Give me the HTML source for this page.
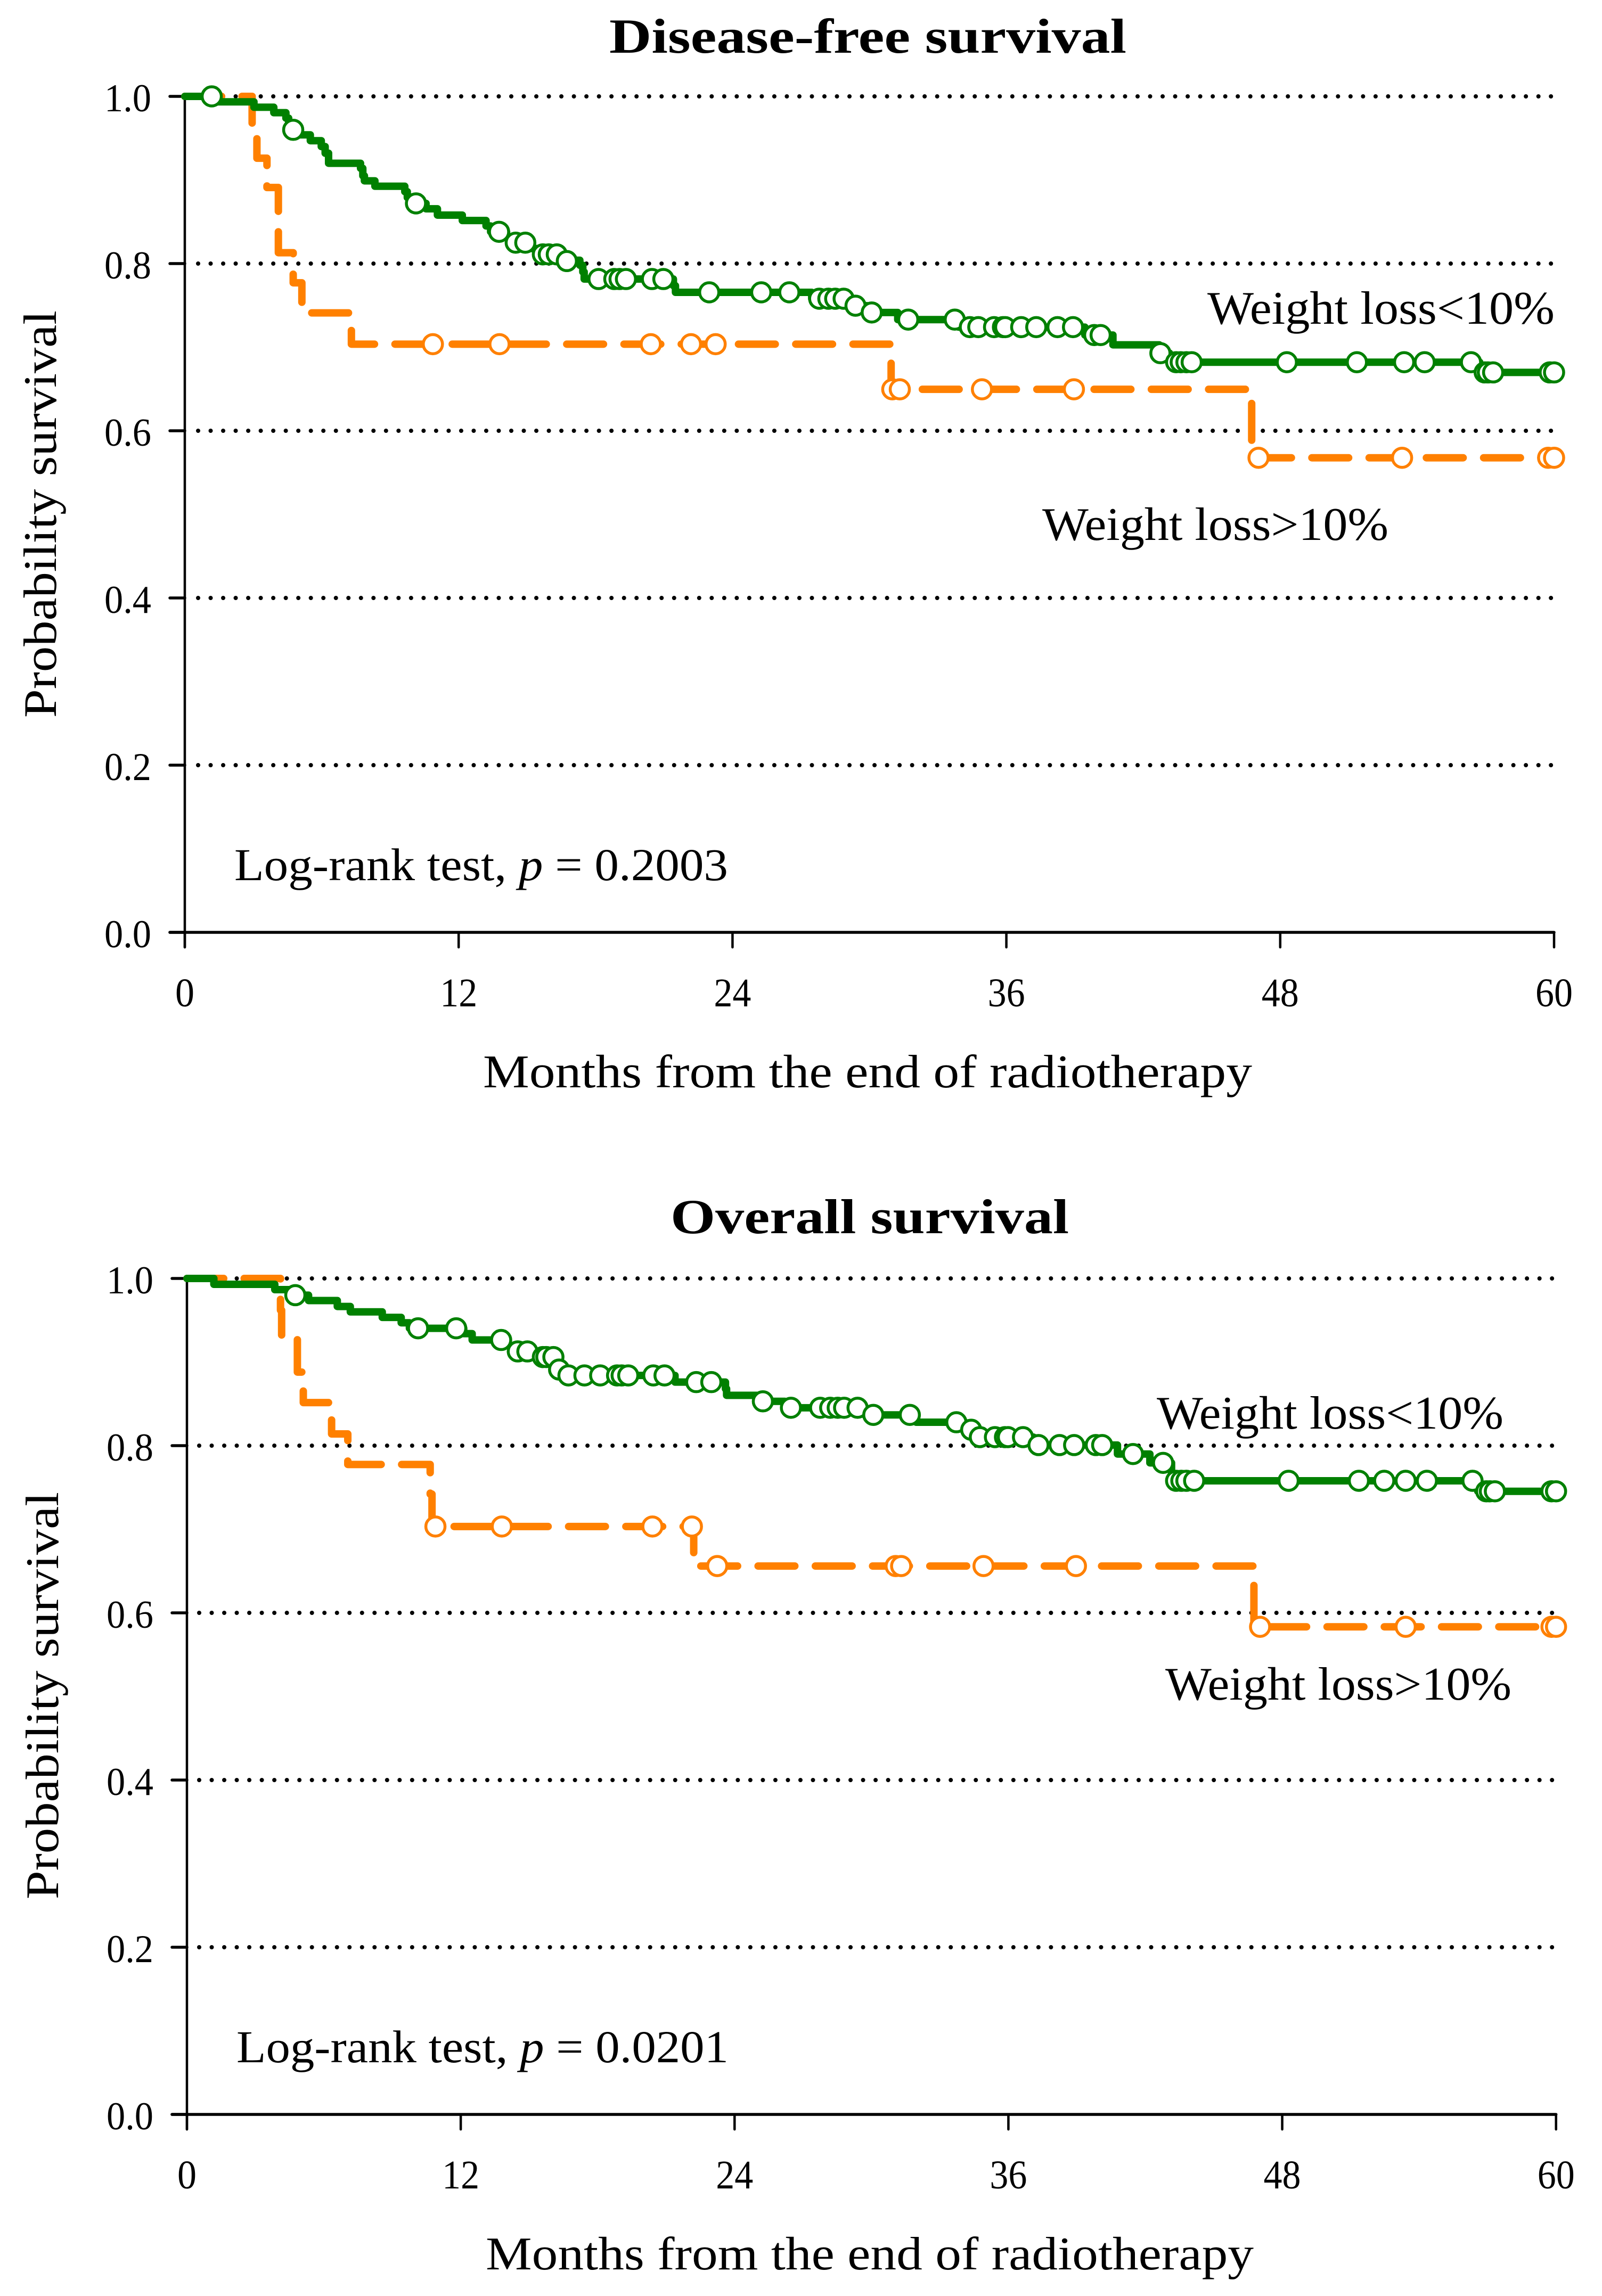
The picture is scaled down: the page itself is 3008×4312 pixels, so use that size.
<!DOCTYPE html>
<html lang="en">
<head>
<meta charset="utf-8">
<title>Disease-free and overall survival by weight loss</title>
<style>
  html, body { margin: 0; padding: 0; background: #fff; }
  svg { display: block; }
  text { font-family: "Liberation Serif", serif; fill: #000; }
</style>
</head>
<body>
<svg id="figure" xmlns="http://www.w3.org/2000/svg" width="3008" height="4312" viewBox="0 0 3008 4312">
  <rect width="3008" height="4312" fill="#fff"/>

  <g id="panel-dfs"></g>
  <text x="1144" y="99" font-size="92" font-weight="bold" textLength="971" lengthAdjust="spacingAndGlyphs">Disease-free survival</text>
  <text transform="translate(105,1348) rotate(-90)" font-size="88" textLength="765" lengthAdjust="spacingAndGlyphs">Probability survival</text>
  <text x="907" y="2042" font-size="88" textLength="1444" lengthAdjust="spacingAndGlyphs">Months from the end of radiotherapy</text>
  <text x="2267" y="608" font-size="88" textLength="652" lengthAdjust="spacingAndGlyphs">Weight loss&lt;10%</text>
  <text x="1957" y="1014" font-size="88" textLength="650" lengthAdjust="spacingAndGlyphs">Weight loss&gt;10%</text>
  <text x="440" y="1653" font-size="86" textLength="927" lengthAdjust="spacingAndGlyphs">Log-rank test, <tspan font-style="italic">p</tspan> = 0.2003</text>

  <g id="panel-os"></g>
  <text x="1259" y="2316" font-size="92" font-weight="bold" textLength="748" lengthAdjust="spacingAndGlyphs">Overall survival</text>
  <text transform="translate(109,3567) rotate(-90)" font-size="88" textLength="765" lengthAdjust="spacingAndGlyphs">Probability survival</text>
  <text x="912" y="4262" font-size="88" textLength="1442" lengthAdjust="spacingAndGlyphs">Months from the end of radiotherapy</text>
  <text x="2172" y="2683" font-size="88" textLength="651" lengthAdjust="spacingAndGlyphs">Weight loss&lt;10%</text>
  <text x="2188" y="3192" font-size="88" textLength="650" lengthAdjust="spacingAndGlyphs">Weight loss&gt;10%</text>
  <text x="444" y="3873" font-size="86" textLength="924" lengthAdjust="spacingAndGlyphs">Log-rank test, <tspan font-style="italic">p</tspan> = 0.0201</text>
</svg>

<script>
// ---- Axis ticks ----
const xTicks = [0, 12, 24, 36, 48, 60];
const yTicks = [0, 0.2, 0.4, 0.6, 0.8, 1.0];
const yTickLabels = ['0.0', '0.2', '0.4', '0.6', '0.8', '1.0'];

// ---- Disease-free survival: weight loss < 10% ----
const dfsLowMonths = [0,1.4,3.03,3.9,4.43,4.55,4.65,5.0,5.5,5.98,6.15,6.3,7.7,7.8,7.87,8.33,9.64,9.75,9.95,10.57,11.07,12.16,13.2,13.4,14.1,14.4,15.1,15.5,16.5,17.31,17.44,17.5,21.41,21.5,27.47,29.2,29.9,31.24,33.9,39.44,40.67,42.7,43.15,56.74,60];
const dfsLowSurvival = [1,.9935,.987,.9805,.974,.967,.96,.954,.947,.94,.932,.92,.914,.905,.899,.8925,.886,.879,.872,.8655,.858,.8515,.845,.838,.831,.825,.818,.811,.804,.798,.79,.7815,.7735,.7656,.758,.7496,.7415,.733,.724,.7145,.7028,.6928,.682,.6698,.6698];
const dfsLowCensorMonths = [1.18,4.75,10.13,13.77,14.5,14.92,15.69,15.95,16.3,16.74,18.13,18.82,19.05,19.33,20.47,20.97,22.98,25.26,26.49,27.8,28.2,28.5,28.87,29.39,30.1,31.7,33.74,34.4,34.77,35.46,35.85,35.95,36.65,37.31,38.24,38.92,39.85,40.13,42.75,43.44,43.64,43.89,44.12,48.29,51.36,53.43,54.33,56.36,56.96,57.1,57.33,59.81,60];
const dfsLowCensorSurvival = [1,.96,.872,.838,.825,.825,.811,.811,.811,.803,.7815,.7815,.7815,.7815,.7815,.7815,.7656,.7656,.7656,.758,.758,.758,.758,.7496,.7415,.733,.733,.724,.724,.724,.724,.724,.724,.724,.724,.724,.7145,.7145,.6928,.682,.682,.682,.682,.682,.682,.682,.682,.682,.6698,.6698,.6698,.6698,.6698];

// ---- Disease-free survival: weight loss > 10% ----
const dfsHighMonths = [0,2.95,3.16,3.6,4.1,4.75,5.13,7.3,30.95,46.75,60];
const dfsHighSurvival = [1,.957,.926,.891,.813,.777,.741,.7036,.6496,.5677,.5677];
const dfsHighCensorMonths = [10.87,13.79,20.42,22.18,23.26,31,31.33,34.93,38.96,47.05,53.34,59.74,60];
const dfsHighCensorSurvival = [.7036,.7036,.7036,.7036,.7036,.6496,.6496,.6496,.6496,.5677,.5677,.5677,.5677];

// ---- Overall survival: weight loss < 10% ----
const osLowMonths = [0,1.18,3.85,4.5,5.33,6.59,7.16,8.56,9.39,9.75,12.13,12.5,13.9,14.2,15.2,16.2,16.3,16.6,21.39,23.6,23.65,25.1,26.2,29.7,31.96,34.1,34.5,37.1,40.78,42.2,43.15,56.57,60];
const osLowSurvival = [1,.993,.9866,.98,.9736,.9665,.96,.9534,.947,.9404,.934,.9264,.9195,.9127,.906,.899,.891,.884,.876,.868,.8602,.853,.8453,.8368,.828,.819,.8102,.8007,.79,.7794,.758,.7454,.7454];
const osLowCensorMonths = [4.75,10.13,11.8,13.77,14.5,14.92,15.6,15.75,16.06,16.31,16.72,17.42,18.11,18.85,19.05,19.34,20.44,20.93,22.32,22.98,25.24,26.47,27.75,28.19,28.52,28.8,29.39,30.08,31.68,33.72,34.37,34.75,35.41,35.85,35.98,36.64,37.32,38.24,38.88,39.83,40.11,41.46,42.78,43.35,43.58,43.8,44.14,48.28,51.36,52.47,53.41,54.34,56.34,56.94,57.1,57.32,59.8,60];
const osLowCensorSurvival = [.98,.9404,.9404,.9264,.9127,.9127,.906,.906,.906,.891,.884,.884,.884,.884,.884,.884,.884,.884,.876,.876,.853,.8453,.8453,.8453,.8453,.8453,.8453,.8368,.8368,.828,.819,.8102,.8102,.8102,.8102,.8102,.8007,.8007,.8007,.8007,.8007,.79,.7794,.758,.758,.758,.758,.758,.758,.758,.758,.758,.758,.7454,.7454,.7454,.7454,.7454];

// ---- Overall survival: weight loss > 10% ----
const osHighMonths = [0,4.1,4.15,4.84,5.1,6.34,7.05,10.66,10.74,22.21,46.76,60];
const osHighSurvival = [1,.962,.929,.888,.8515,.814,.7775,.742,.7033,.656,.5833,.5833];
const osHighCensorMonths = [10.89,13.8,20.4,22.13,23.24,31.06,31.3,34.91,38.96,47.03,53.41,59.8,60];
const osHighCensorSurvival = [.7033,.7033,.7033,.7033,.656,.656,.656,.656,.656,.5833,.5833,.5833,.5833];

const SVG_NS = 'http://www.w3.org/2000/svg';
const GREEN = '#008000';
const ORANGE = '#FF8000';

function make(tag, attrs, parent) {
  const el = document.createElementNS(SVG_NS, tag);
  for (const k in attrs) el.setAttribute(k, attrs[k]);
  parent.appendChild(el);
  return el;
}

function drawMarkers(g, months, survival, xScale, yScale, color) {
  months.forEach(function (m, i) {
    const c = make('circle', { cx: xScale(m), cy: yScale(survival[i]), r: 18, fill: '#fff', stroke: color, 'stroke-width': 5.5 }, g);
    
    
  });
}

function stepPath(months, survival, xScale, yScale) {
  let d = 'M' + xScale(months[0]) + ' ' + yScale(survival[0]);
  for (let i = 1; i < months.length; i++) {
    d += ' H' + xScale(months[i]) + ' V' + yScale(survival[i]);
  }
  return d;
}

function drawPanel(g, box, low, high) {
  const xScale = function (m) { return box.left + (m / 60) * (box.right - box.left); };
  const yScale = function (s) { return box.bottom - s * (box.bottom - box.top); };

  // dotted gridlines
  yTicks.forEach(function (t) {
    if (t === 0) return;
    const grid = make('line', { x1: box.dotStart, x2: box.dotEnd, y1: yScale(t), y2: yScale(t), stroke: '#000', 'stroke-width': 8, 'stroke-linecap': 'round', 'stroke-dasharray': '0 23.52' }, g);
    
    
  });

  // axes
  const yAxis = make('line', { x1: box.left, x2: box.left, y1: yScale(1), y2: box.bottom + 28, stroke: '#000', 'stroke-width': 4.5, 'stroke-linecap': 'round' }, g);
  
  
  const xAxis = make('line', { x1: box.left - 28, x2: box.right, y1: box.bottom, y2: box.bottom, stroke: '#000', 'stroke-width': 5.5, 'stroke-linecap': 'round' }, g);
  
  

  // y ticks and labels
  yTicks.forEach(function (t, i) {
    const tick = make('line', { x1: box.left - 28, x2: box.left, y1: yScale(t), y2: yScale(t), stroke: '#000', 'stroke-width': 5.5, 'stroke-linecap': 'round' }, g);
    
    
    const label = make('text', { x: box.left - 151, y: yScale(t) + 28, 'font-size': 74, textLength: 88, lengthAdjust: 'spacingAndGlyphs' }, g);
    label.textContent = yTickLabels[i];
    
    
  });

  // x ticks and labels
  xTicks.forEach(function (t) {
    const tick = make('line', { x1: xScale(t), x2: xScale(t), y1: box.bottom, y2: box.bottom + 28, stroke: '#000', 'stroke-width': 4.5, 'stroke-linecap': 'round' }, g);
    
    
    const str = String(t);
    const width = str.length === 1 ? 36 : 70;
    const label = make('text', { x: xScale(t) - width / 2, y: box.bottom + 139, 'font-size': 76, textLength: width, lengthAdjust: 'spacingAndGlyphs' }, g);
    label.textContent = str;
    
    
  });

  // series: orange first, green on top
  const highLine = make('path', { d: stepPath(high.months, high.survival, xScale, yScale), fill: 'none', stroke: ORANGE, 'stroke-width': 14, 'stroke-linecap': 'round', 'stroke-linejoin': 'round', 'stroke-dasharray': '69 38.5' }, g);
  
  
  const lowLine = make('path', { d: stepPath(low.months, low.survival, xScale, yScale), fill: 'none', stroke: GREEN, 'stroke-width': 14, 'stroke-linecap': 'round', 'stroke-linejoin': 'round' }, g);
  
  

  drawMarkers(g, high.censorMonths, high.censorSurvival, xScale, yScale, ORANGE);
  drawMarkers(g, low.censorMonths, low.censorSurvival, xScale, yScale, GREEN);
}

drawPanel(document.getElementById('panel-dfs'),
  { left: 347, right: 2918, top: 181, bottom: 1751, dotStart: 372, dotEnd: 2913 },
  { months: dfsLowMonths, survival: dfsLowSurvival, censorMonths: dfsLowCensorMonths, censorSurvival: dfsLowCensorSurvival },
  { months: dfsHighMonths, survival: dfsHighSurvival, censorMonths: dfsHighCensorMonths, censorSurvival: dfsHighCensorSurvival });

drawPanel(document.getElementById('panel-os'),
  { left: 351, right: 2921.7, top: 2401, bottom: 3971, dotStart: 374, dotEnd: 2915 },
  { months: osLowMonths, survival: osLowSurvival, censorMonths: osLowCensorMonths, censorSurvival: osLowCensorSurvival },
  { months: osHighMonths, survival: osHighSurvival, censorMonths: osHighCensorMonths, censorSurvival: osHighCensorSurvival });
</script>
</body>
</html>
